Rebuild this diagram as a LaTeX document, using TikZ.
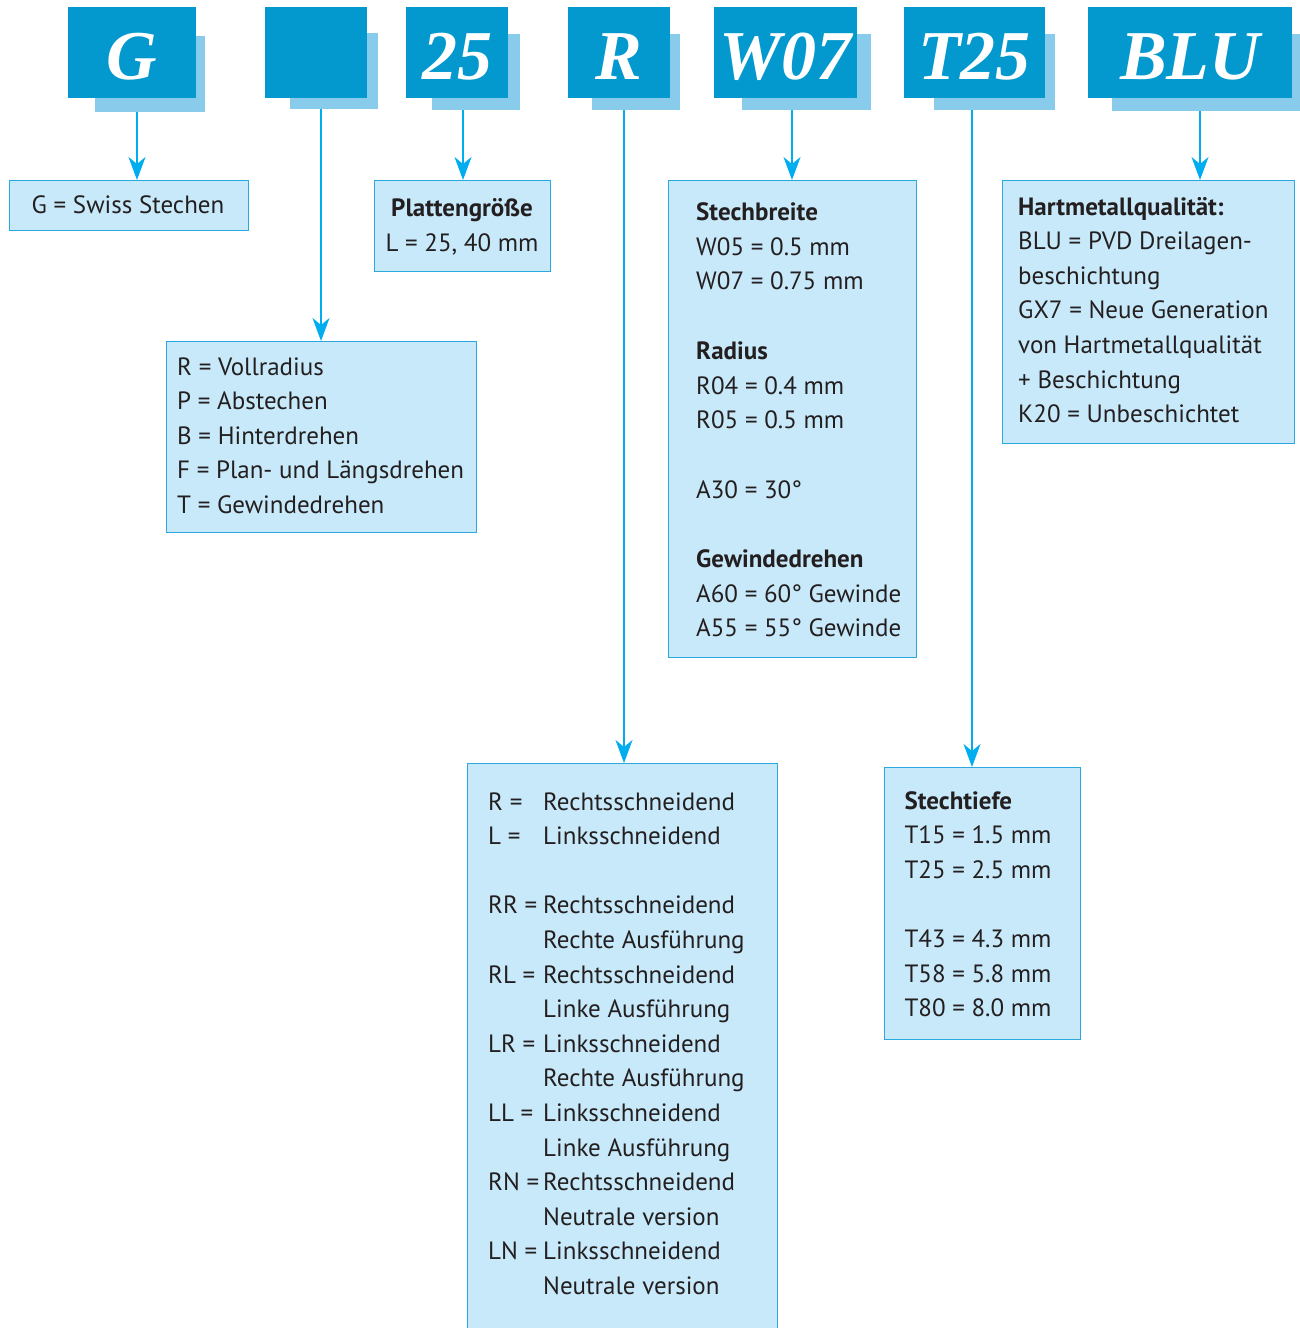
\documentclass[tikz,border=0pt]{standalone}
\usepackage{fontspec}
\setmainfont{PT Sans}
\newfontfamily\hdrfont{Liberation Serif}
\usetikzlibrary{arrows.meta}
\definecolor{hdrblue}{RGB}{3,153,207}
\definecolor{shadowblue}{RGB}{136,203,234}
\definecolor{boxfill}{RGB}{200,233,249}
\definecolor{boxline}{RGB}{44,168,224}
\definecolor{connc}{RGB}{0,174,239}
\definecolor{textc}{RGB}{35,31,32}
\tikzset{
  hdr/.style={fill=hdrblue, inner sep=0pt, text=white, text height=54pt, text depth=0pt,
    font=\hdrfont\bfseries\itshape\fontsize{70}{70}\selectfont},
  shadowbox/.style={fill=shadowblue, inner sep=0pt, anchor=north west},
  ibox/.style={fill=boxfill, draw=boxline, line width=1.3pt, inner sep=0pt, anchor=north west},
  conn/.style={draw=connc, line width=1.5pt, -{Stealth[length=23pt,width=17pt,inset=7pt]}},
  tx/.style={anchor=base west, inner sep=0pt, text=textc, font=\fontsize{25}{30}\selectfont},
  tb/.style={tx, font=\bfseries\fontsize{25}{30}\selectfont},
}
\begin{document}
\begin{tikzpicture}[x=1pt,y=-1pt]
\useasboundingbox (0,0) rectangle (1300,1328);
\clip (0,0) rectangle (1300,1328);

% header shadows
\node[shadowbox, minimum width=110pt, minimum height=76pt] (sG) at (95,36) {};
\node[shadowbox, minimum width=88pt, minimum height=76pt] (sX) at (290,33) {};
\node[shadowbox, minimum width=88pt, minimum height=76pt] (s25) at (432,34) {};
\node[shadowbox, minimum width=88pt, minimum height=76pt] (sR) at (592,34) {};
\node[shadowbox, minimum width=129pt, minimum height=76pt] (sW) at (742,34) {};
\node[shadowbox, minimum width=121pt, minimum height=76pt] (sT) at (934,34) {};
\node[shadowbox, minimum width=198pt, minimum height=77pt] (sB) at (1112,34) {};

% header boxes
\node[hdr, minimum width=128pt, minimum height=91pt] (hG) at (132,52.5) {G};
\node[hdr, minimum width=102pt, minimum height=91pt] (hX) at (316,52.5) {};
\node[hdr, minimum width=102pt, minimum height=91pt] (h25) at (457,52.5) {25};
\node[hdr, minimum width=102pt, minimum height=91pt] (hR) at (619,52.5) {R};
\node[hdr, minimum width=143pt, minimum height=91pt] (hW) at (785.5,52.5) {W07};
\node[hdr, minimum width=141pt, minimum height=91pt] (hT) at (974.5,52.5) {T25};
\node[hdr, minimum width=204pt, minimum height=91pt] (hB) at (1190,52.5) {BLU};

% info boxes
\node[ibox, minimum width=239pt, minimum height=50pt] (bG) at (9,180) {};
\node[ibox, minimum width=176pt, minimum height=91pt] (b25) at (374,180) {};
\node[ibox, minimum width=310pt, minimum height=191pt] (bX) at (166,341) {};
\node[ibox, minimum width=248pt, minimum height=477pt] (bW) at (668,180) {};
\node[ibox, minimum width=292pt, minimum height=263pt] (bB) at (1002,180) {};
\node[ibox, minimum width=310pt, minimum height=600pt] (bR) at (467,763) {};
\node[ibox, minimum width=196pt, minimum height=272pt] (bT) at (884,767) {};

% connectors
\draw[conn] (sG.south -| 137,0) -- (bG.north -| 137,0);
\draw[conn] (sX.south -| 321,0) -- (bX.north -| 321,0);
\draw[conn] (s25.south -| 463,0) -- (b25.north -| 463,0);
\draw[conn] (sR.south -| 624,0) -- (bR.north -| 624,0);
\draw[conn] (sW.south -| 792,0) -- (bW.north -| 792,0);
\draw[conn] (sT.south -| 972,0) -- (bT.north -| 972,0);
\draw[conn] (sB.south -| 1200,0) -- (bB.north -| 1200,0);

% texts: G
\node[tx] (tG) at (31.5,213.5) {G = Swiss Stechen};
% 25
\node[tb, anchor=base] (t25a) at (462,216.5) {Plattengröße};
\node[tx, anchor=base] (t25b) at (462,251) {L = 25, 40 mm};
% blank
\foreach \yy/\txt [count=\i] in {375/R = Vollradius, 409.6/P = Abstechen, 444.2/B = Hinterdrehen, 478.8/F = Plan- und Längsdrehen, 513.4/T = Gewindedrehen}
  \node[tx] (tX\i) at (177,\yy) {\txt};
% W07
\node[tb] (tW1) at (696,220.5) {Stechbreite};
\node[tx] (tW2) at (696,255.2) {W05 = 0.5 mm};
\node[tx] (tW3) at (696,289.9) {W07 = 0.75 mm};
\node[tb] (tW4) at (696,359.3) {Radius};
\node[tx] (tW5) at (696,394) {R04 = 0.4 mm};
\node[tx] (tW6) at (696,428.7) {R05 = 0.5 mm};
\node[tx] (tW7) at (696,498.1) {A30 = 30°};
\node[tb] (tW8) at (696,567.5) {Gewindedrehen};
\node[tx] (tW9) at (696,602.2) {A60 = 60° Gewinde};
\node[tx] (tW10) at (696,636.9) {A55 = 55° Gewinde};
% BLU
\node[tb] (tB1) at (1018,215) {Hartmetallqualität:};
\foreach \yy/\txt [count=\i] in {249.6/BLU = PVD Dreilagen-, 284.2/beschichtung, 318.8/GX7 = Neue Generation, 353.4/von Hartmetallqualität, 388/+ Beschichtung, 422.6/K20 = Unbeschichtet}
  \node[tx] (tB\i x) at (1018,\yy) {\txt};
% T25
\node[tb] (tT1) at (904.3,809.3) {Stechtiefe};
\foreach \yy/\txt [count=\i] in {843.9/T15 = 1.5 mm, 878.5/T25 = 2.5 mm, 947.7/T43 = 4.3 mm, 982.3/T58 = 5.8 mm, 1016.9/T80 = 8.0 mm}
  \node[tx] (tT\i x) at (904.3,\yy) {\txt};
% R
\foreach \yy/\txt [count=\i] in {810/R =, 844.6/L =, 913.8/RR =, 983/RL =, 1052.2/LR =, 1121.4/LL =, 1190.6/RN =, 1259.8/LN =}
  \node[tx] (tRa\i) at (488,\yy) {\txt};
\foreach \yy/\txt [count=\i] in {810/Rechtsschneidend, 844.6/Linksschneidend, 913.8/Rechtsschneidend, 948.4/Rechte Ausführung, 983/Rechtsschneidend, 1017.6/Linke Ausführung, 1052.2/Linksschneidend, 1086.8/Rechte Ausführung, 1121.4/Linksschneidend, 1156/Linke Ausführung, 1190.6/Rechtsschneidend, 1225.2/Neutrale version, 1259.8/Linksschneidend, 1294.4/Neutrale version}
  \node[tx] (tRb\i) at (543,\yy) {\txt};
\end{tikzpicture}
\end{document}
